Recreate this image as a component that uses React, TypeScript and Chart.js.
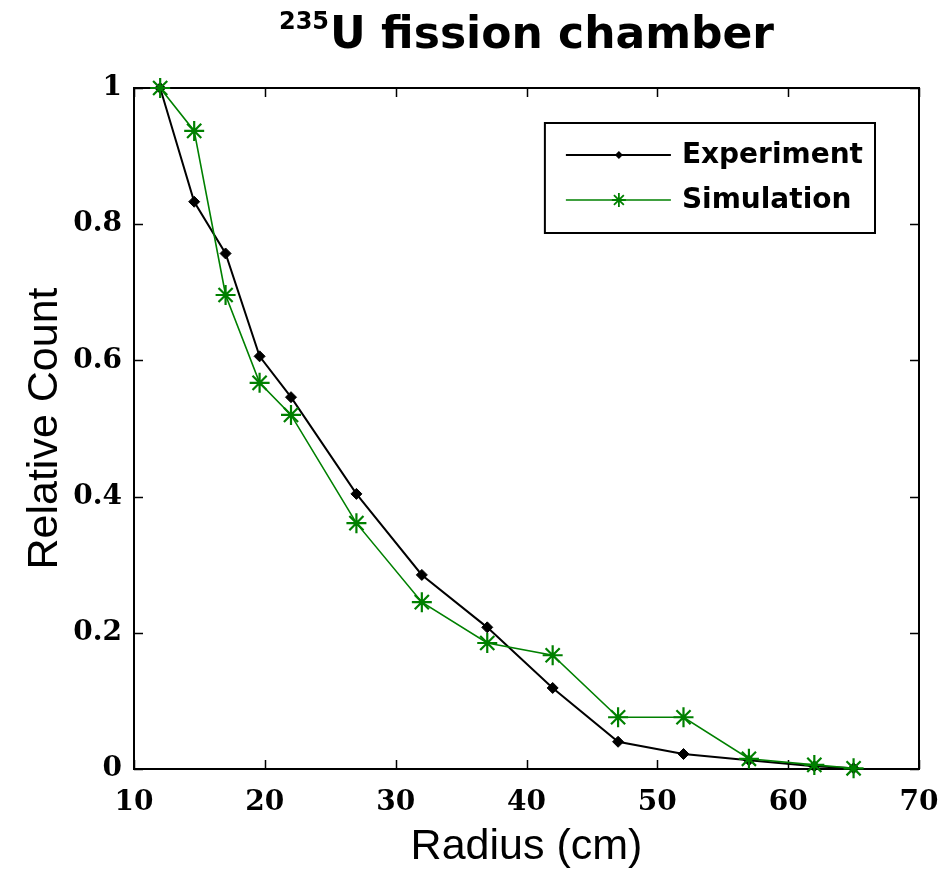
import React, { useEffect, useRef } from "react";
import { Chart, registerables } from "chart.js";

Chart.register(...registerables);

// ---- data ----
const radius = [12, 14.6, 17, 19.6, 22, 27, 32, 37, 42, 47, 52, 57, 62, 65];
const experiment = [1.0, 0.833, 0.757, 0.606, 0.546, 0.404, 0.285, 0.208, 0.119, 0.04, 0.022, 0.013, 0.004, 0.001];
const simulation = [1.0, 0.937, 0.696, 0.567, 0.52, 0.361, 0.245, 0.185, 0.167, 0.076, 0.076, 0.015, 0.006, 0.001];
const xTicks = [10, 20, 30, 40, 50, 60, 70];
const yTicks = [0, 0.2, 0.4, 0.6, 0.8, 1];
const titleSup = "235";
const titleMain = "U fission chamber";
const xTitle = "Radius (cm)";
const yTitle = "Relative Count";
const seriesNames = ["Experiment", "Simulation"];

const GREEN = "rgb(0,128,0)";

function drawMarker(ctx: CanvasRenderingContext2D, style: string, x: number, y: number, r: number, color: string) {
  ctx.save();
  ctx.strokeStyle = color;
  ctx.fillStyle = color;
  if (style === "rectRot") {
    ctx.beginPath();
    ctx.moveTo(x, y - r);
    ctx.lineTo(x + r, y);
    ctx.lineTo(x, y + r);
    ctx.lineTo(x - r, y);
    ctx.closePath();
    ctx.fill();
  } else {
    ctx.lineWidth = 1.8;
    ctx.beginPath();
    const d = r * Math.SQRT1_2;
    ctx.moveTo(x - r, y); ctx.lineTo(x + r, y);
    ctx.moveTo(x, y - r); ctx.lineTo(x, y + r);
    ctx.moveTo(x - d, y - d); ctx.lineTo(x + d, y + d);
    ctx.moveTo(x - d, y + d); ctx.lineTo(x + d, y - d);
    ctx.stroke();
  }
  ctx.restore();
}

const fmt = (v: number) => String(Number(v.toFixed(2)));

const boxPlugin = {
  id: "matlabBox",
  beforeDatasetsDraw(chart: any) {
    const { ctx, chartArea: ca, scales } = chart;
    ctx.save();
    ctx.strokeStyle = "#000";
    ctx.lineWidth = 1.5;
    const tl = 9;
    ctx.beginPath();
    for (const v of xTicks) {
      const px = Math.round(scales.x.getPixelForValue(v)) + 0.5;
      ctx.moveTo(px, ca.bottom); ctx.lineTo(px, ca.bottom - tl);
      ctx.moveTo(px, ca.top); ctx.lineTo(px, ca.top + tl);
    }
    for (const v of yTicks) {
      const py = Math.round(scales.y.getPixelForValue(v)) + 0.5;
      ctx.moveTo(ca.left, py); ctx.lineTo(ca.left + tl, py);
      ctx.moveTo(ca.right, py); ctx.lineTo(ca.right - tl, py);
    }
    ctx.stroke();
    ctx.lineWidth = 2;
    ctx.strokeRect(ca.left, ca.top, ca.right - ca.left, ca.bottom - ca.top);
    ctx.restore();
  },
  afterDraw(chart: any) {
    const { ctx, chartArea: ca } = chart;
    // title with superscript
    ctx.save();
    ctx.fillStyle = "#000";
    ctx.textBaseline = "alphabetic";
    ctx.textAlign = "left";
    const supFont = 'bold 24px "DejaVu Sans"';
    const mainFont = 'bold 44px "DejaVu Sans"';
    ctx.font = supFont;
    const ws = ctx.measureText(titleSup).width;
    ctx.font = mainFont;
    const wm = ctx.measureText(titleMain).width;
    const cx = (ca.left + ca.right) / 2;
    const x0 = cx - (ws + wm + 1) / 2;
    ctx.font = supFont;
    ctx.fillText(titleSup, x0, 29);
    ctx.font = mainFont;
    ctx.fillText(titleMain, x0 + ws + 1, 48);
    ctx.restore();

    // legend
    ctx.save();
    const legFont = 'bold 28px "DejaVu Sans"';
    ctx.font = legFont;
    const dsets = [...chart.data.datasets].sort((a: any, b: any) => a.legendIndex - b.legendIndex);
    let maxW = 0;
    for (const d of dsets) maxW = Math.max(maxW, ctx.measureText(d.label).width);
    const boxW = 21 + 105 + 11 + maxW + 12;
    const boxH = 110;
    const bx = ca.right - 44 - boxW;
    const by = ca.top + 35;
    ctx.fillStyle = "#fff";
    ctx.fillRect(bx, by, boxW, boxH);
    ctx.strokeStyle = "#000";
    ctx.lineWidth = 2;
    ctx.strokeRect(bx, by, boxW, boxH);
    dsets.forEach((d: any, i: number) => {
      const ry = by + 32 + i * 45;
      ctx.strokeStyle = d.borderColor;
      ctx.lineWidth = d.borderWidth;
      ctx.beginPath();
      ctx.moveTo(bx + 21, ry);
      ctx.lineTo(bx + 126, ry);
      ctx.stroke();
      drawMarker(ctx, d.pointStyle, bx + 74, ry, d.pointStyle === "star" ? 7 : 4, d.borderColor);
      ctx.fillStyle = "#000";
      ctx.textBaseline = "middle";
      ctx.textAlign = "left";
      ctx.font = legFont;
      ctx.fillText(d.label, bx + 137, ry + 1);
    });
    ctx.restore();
  },
};

export default function App() {
  const ref = useRef<HTMLCanvasElement | null>(null);
  useEffect(() => {
    document.body.style.margin = "0";
    const canvas = ref.current;
    if (!canvas) return;
    const tickFont = { family: '"DejaVu Serif"', size: 28, weight: "bold" as const };
    const chart = new Chart(canvas, {
      type: "line",
      data: {
        datasets: [
          {
            label: seriesNames[1],
            legendIndex: 1,
            data: radius.map((x, i) => ({ x, y: simulation[i] })),
            borderColor: GREEN,
            backgroundColor: GREEN,
            borderWidth: 1.6,
            pointStyle: "star",
            pointRadius: 10,
            pointBorderWidth: 2.2,
            pointBorderColor: GREEN,
            tension: 0,
            clip: false as any,
            order: 0,
          },
          {
            label: seriesNames[0],
            legendIndex: 0,
            data: radius.map((x, i) => ({ x, y: experiment[i] })),
            borderColor: "#000",
            backgroundColor: "#000",
            borderWidth: 2,
            pointStyle: "rectRot",
            pointRadius: 5.5,
            pointBorderWidth: 1,
            tension: 0,
            clip: false as any,
            order: 1,
          },
        ] as any,
      },
      options: {
        responsive: false,
        animation: false,
        layout: { padding: { top: 88, right: 23, left: 0, bottom: 0 } },
        plugins: { legend: { display: false }, title: { display: false }, tooltip: { enabled: false } },
        events: [],
        scales: {
          x: {
            type: "linear",
            min: 10,
            max: 70,
            afterBuildTicks: (s: any) => { s.ticks = xTicks.map((v) => ({ value: v })); },
            afterFit: (s: any) => { s.height = 102; s.paddingLeft = 0; s.paddingRight = 0; },
            ticks: { font: tickFont, color: "#000", padding: 17, maxRotation: 0, autoSkip: false, callback: (v: any) => fmt(Number(v)) },
            grid: { display: false, drawTicks: false },
            border: { display: false },
            title: { display: true, text: xTitle, color: "#000", font: { family: '"Liberation Sans"', size: 43 }, padding: { top: 0, bottom: -2 } },
          },
          y: {
            type: "linear",
            min: 0,
            max: 1,
            afterBuildTicks: (s: any) => { s.ticks = yTicks.map((v) => ({ value: v })); },
            afterFit: (s: any) => { s.width = 134; s.paddingTop = 0; s.paddingBottom = 0; },
            ticks: { font: tickFont, color: "#000", padding: 12, autoSkip: false, callback: (v: any) => fmt(Number(v)) },
            grid: { display: false, drawTicks: false },
            border: { display: false },
            title: { display: true, text: yTitle, color: "#000", font: { family: '"Liberation Sans"', size: 43 }, padding: { top: 19, bottom: 0 } },
          },
        },
      },
      plugins: [boxPlugin],
    });
    return () => chart.destroy();
  }, []);
  return <canvas ref={ref} width={942} height={871} style={{ display: "block" }} />;
}
